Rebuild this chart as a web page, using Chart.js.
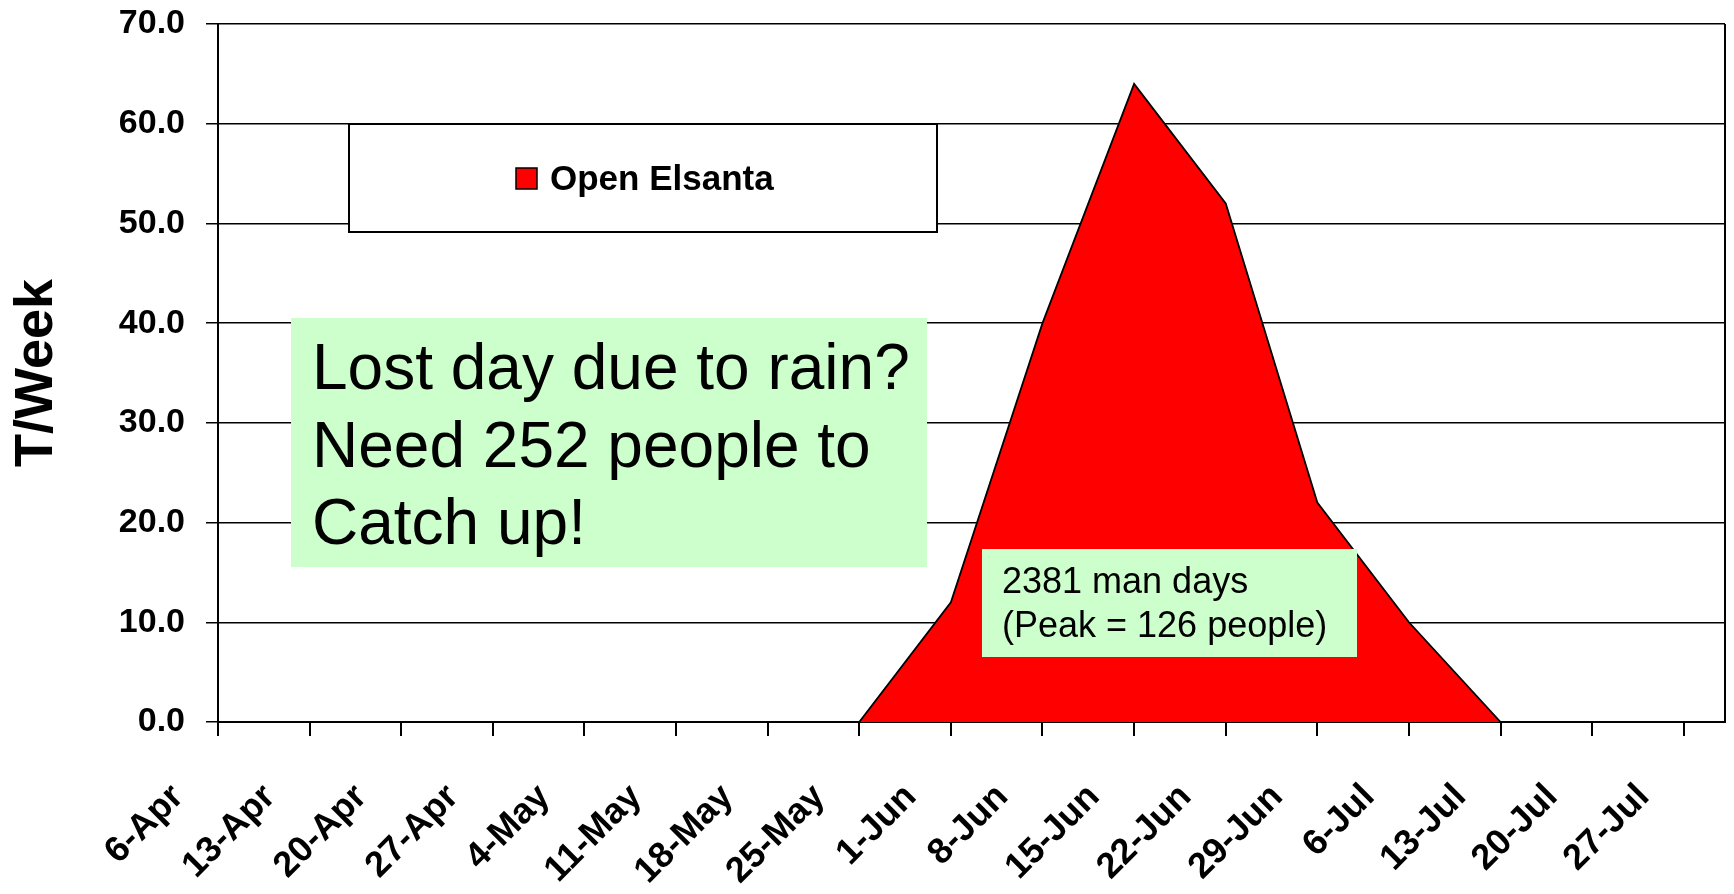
<!DOCTYPE html>
<html>
<head>
    <title>Open Elsanta</title>
    <script src="https://cdn.jsdelivr.net/npm/chart.js"></script>
    <style>
        html, body { margin: 0; padding: 0; background: #fff; }
        #wrap { width: 1734px; height: 894px; }
    </style>
</head>
<body>
    <div id="wrap"><canvas id="chart" width="1734" height="894"></canvas></div>
    <script>
        // week labels (x axis)
        const weeks = ['6-Apr', '13-Apr', '20-Apr', '27-Apr', '4-May', '11-May', '18-May', '25-May',
            '1-Jun', '8-Jun', '15-Jun', '22-Jun', '29-Jun', '6-Jul', '13-Jul', '20-Jul', '27-Jul'];
        // tonnes per week
        const tonnes = [0, 0, 0, 0, 0, 0, 0, 0, 12, 40, 64, 52, 22, 10, 0, 0, 0];
        const seriesName = 'Open Elsanta';
        const yTitle = 'T/Week';
        const noteRain = ['Lost day due to rain?', 'Need 252 people to', 'Catch up!'];
        const noteDays = ['2381 man days', '(Peak = 126 people)'];

        const FONT = '"Liberation Sans", Arial, sans-serif';

        // boxes drawn on top of the plot
        const overlays = {
            id: 'overlays',
            afterDatasetsDraw(chart) {
                const ctx = chart.ctx;
                const a = chart.chartArea;
                ctx.save();
                // right border of plot area
                ctx.strokeStyle = '#000';
                ctx.lineWidth = 2;
                ctx.beginPath();
                ctx.moveTo(a.right, a.top);
                ctx.lineTo(a.right, a.bottom);
                ctx.stroke();

                // legend
                ctx.fillStyle = '#fff';
                ctx.fillRect(349, 124, 588, 108);
                ctx.lineWidth = 2;
                ctx.strokeRect(349, 124, 588, 108);
                ctx.fillStyle = '#ff0000';
                ctx.fillRect(516, 168, 21, 21);
                ctx.lineWidth = 1.5;
                ctx.strokeRect(516, 168, 21, 21);
                ctx.fillStyle = '#000';
                ctx.font = 'bold 35px ' + FONT;
                ctx.textBaseline = 'middle';
                ctx.fillText(chart.data.datasets[0].label, 550, 180);

                // green notes
                ctx.textBaseline = 'alphabetic';
                ctx.fillStyle = '#ccffcc';
                ctx.fillRect(291, 318, 636, 249);
                ctx.fillStyle = '#000';
                ctx.font = '64px ' + FONT;
                noteRain.forEach((t, i) => ctx.fillText(t, 312, 389 + i * 77.5));

                ctx.fillStyle = '#ccffcc';
                ctx.fillRect(982, 549, 375, 108);
                ctx.fillStyle = '#000';
                ctx.font = '36px ' + FONT;
                noteDays.forEach((t, i) => ctx.fillText(t, 1002, 593 + i * 44));
                ctx.restore();
            }
        };

        const ctx = document.getElementById('chart').getContext('2d');
        new Chart(ctx, {
            type: 'line',
            data: {
                datasets: [{
                    label: seriesName,
                    data: tonnes.map((v, i) => ({ x: i, y: v })),
                    fill: 'origin',
                    backgroundColor: '#ff0000',
                    borderColor: '#000',
                    borderWidth: 1.8,
                    pointRadius: 0,
                    tension: 0
                }]
            },
            options: {
                responsive: false,
                animation: false,
                layout: { autoPadding: false, padding: { top: 24, right: 9, left: 0, bottom: 0 } },
                plugins: { legend: { display: false }, tooltip: { enabled: false } },
                scales: {
                    x: {
                        type: 'linear',
                        min: 0,
                        max: 16.45,
                        afterFit: s => {
                            s.height = 172;
                            s.paddingLeft = 0; s.paddingRight = 0;
                        },
                        ticks: {
                            stepSize: 1,
                            includeBounds: false,
                            autoSkip: false,
                            minRotation: 45,
                            maxRotation: 45,
                            padding: 40,
                            labelOffset: -40,
                            color: '#000',
                            font: { family: FONT, size: 36, weight: 'bold' },
                            callback: v => weeks[v] ?? ''
                        },
                        grid: { drawOnChartArea: false, drawTicks: true, tickLength: 14, color: '#000', lineWidth: 2 },
                        border: { color: '#000', width: 2 }
                    },
                    y: {
                        min: 0,
                        max: 70,
                        afterFit: s => {
                            s.width = 218;
                            s.paddingTop = 0; s.paddingBottom = 0;
                        },
                        ticks: {
                            stepSize: 10,
                            padding: 21,
                            color: '#000',
                            font: { family: FONT, size: 34, weight: 'bold' },
                            callback: v => v.toFixed(1)
                        },
                        grid: { color: '#000', lineWidth: 1.5, tickLength: 12 },
                        border: { color: '#000', width: 2 },
                        title: {
                            display: true,
                            text: yTitle,
                            color: '#000',
                            padding: { top: 5, bottom: 0 },
                            font: { family: FONT, size: 54, weight: 'bold' }
                        }
                    }
                }
            },
            plugins: [overlays]
        });
    </script>
</body>
</html>
